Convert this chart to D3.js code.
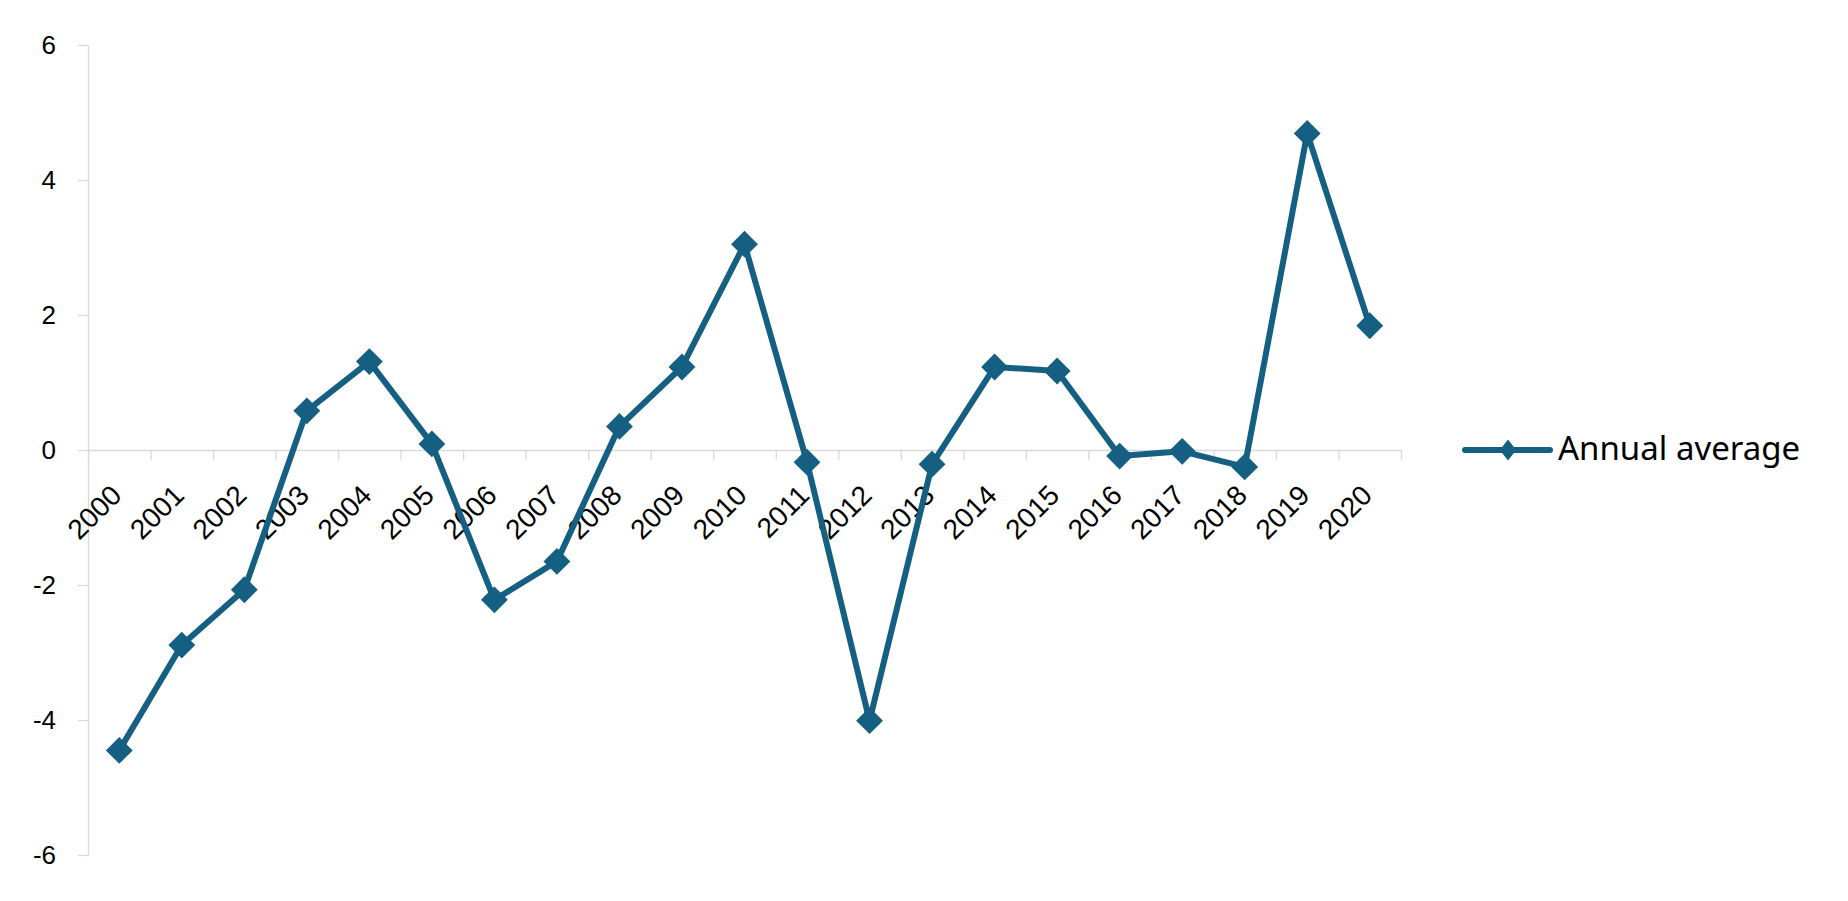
<!DOCTYPE html>
<html>
<head>
<meta charset="utf-8">
<script src="https://cdn.jsdelivr.net/npm/d3@7"></script>
<style>
  html, body { margin: 0; padding: 0; background: #fff; }
  svg { display: block; }
</style>
</head>
<body>
<svg id="chart" width="1848" height="901"></svg>
<script>
// ---- data ----
const years = ["2000","2001","2002","2003","2004","2005","2006","2007","2008","2009","2010",
               "2011","2012","2013","2014","2015","2016","2017","2018","2019","2020"];
const annualAverage = [-4.45, -2.89, -2.07, 0.58, 1.31, 0.09, -2.22, -1.65, 0.35, 1.23, 3.05,
                       -0.18, -4.01, -0.21, 1.23, 1.17, -0.09, -0.02, -0.25, 4.69, 1.84];
const yTicks = [-6, -4, -2, 0, 2, 4, 6];
const seriesName = "Annual average";

// ---- layout ----
const plot = { left: 88, right: 1401, top: 45, bottom: 855 };
const lineColor = "#156082";
const axisColor = "#d9d9d9";
const axisFont = "'Liberation Sans', Arial, sans-serif";

const svg = d3.select("#chart");

const x = d3.scaleBand().domain(years).range([plot.left, plot.right]).paddingInner(0).paddingOuter(0);
const xEdge = d3.scaleLinear().domain([0, years.length]).range([plot.left, plot.right]);
const y = d3.scaleLinear().domain([-6, 6]).range([plot.bottom, plot.top]);
const cx = d => x(d) + x.bandwidth() / 2;

// y axis
const yAxis = svg.append("g")
  .attr("transform", `translate(${plot.left},0)`)
  .call(d3.axisLeft(y).tickValues(yTicks).tickSize(10).tickSizeOuter(0).tickPadding(22).tickFormat(d => String(d)));
yAxis.select(".domain").attr("stroke", axisColor).attr("stroke-width", 1.3);
yAxis.selectAll(".tick line").attr("stroke", axisColor).attr("stroke-width", 1.3);
yAxis.selectAll(".tick text").attr("font-family", axisFont).attr("font-size", 26).attr("fill", "#000");

// x axis (ticks between categories) at y = 0
const y0 = y(0);
const xAxis = svg.append("g")
  .attr("transform", `translate(0,${y0})`)
  .call(d3.axisBottom(xEdge).tickValues(d3.range(0, years.length + 1)).tickSize(10).tickSizeOuter(0).tickFormat(""));
xAxis.select(".domain").attr("stroke", axisColor).attr("stroke-width", 1.3);
xAxis.selectAll(".tick line").attr("stroke", axisColor).attr("stroke-width", 1.3);

// x labels, rotated -45
svg.append("g").selectAll("text")
  .data(years)
  .join("text")
  .attr("transform", d => `translate(${cx(d) + 4},${y0 + 47}) rotate(-45)`)
  .attr("text-anchor", "end")
  .attr("font-family", axisFont)
  .attr("font-size", 28)
  .attr("fill", "#000")
  .text(d => d);

// line
const pts = years.map((yr, i) => ({ yr, v: annualAverage[i] }));
const line = d3.line().x(d => cx(d.yr)).y(d => y(d.v));
svg.append("path")
  .datum(pts)
  .attr("d", line)
  .attr("fill", "none")
  .attr("stroke", lineColor)
  .attr("stroke-width", 6)
  .attr("stroke-linejoin", "round");

// markers
const diamond = d3.symbol().type(d3.symbolSquare).size(19 * 19);
svg.append("g").selectAll("path")
  .data(pts)
  .join("path")
  .attr("d", diamond)
  .attr("transform", d => `translate(${cx(d.yr)},${y(d.v)}) rotate(45)`)
  .attr("fill", lineColor);

// legend
const lg = svg.append("g").attr("transform", `translate(1465,${y0})`);
lg.append("line").attr("x1", 0).attr("x2", 85).attr("y1", 0).attr("y2", 0)
  .attr("stroke", lineColor).attr("stroke-width", 6).attr("stroke-linecap", "round");
lg.append("path").attr("d", d3.symbol().type(d3.symbolSquare).size(15 * 15))
  .attr("transform", "translate(43,0) scale(0.78,1) rotate(45)").attr("fill", lineColor);
lg.append("text").attr("x", 93).attr("y", 10)
  .attr("font-family", "'Noto Sans', 'Open Sans', sans-serif")
  .attr("font-size", 33)
  .attr("fill", "#000")
  .text(seriesName);
</script>
</body>
</html>
